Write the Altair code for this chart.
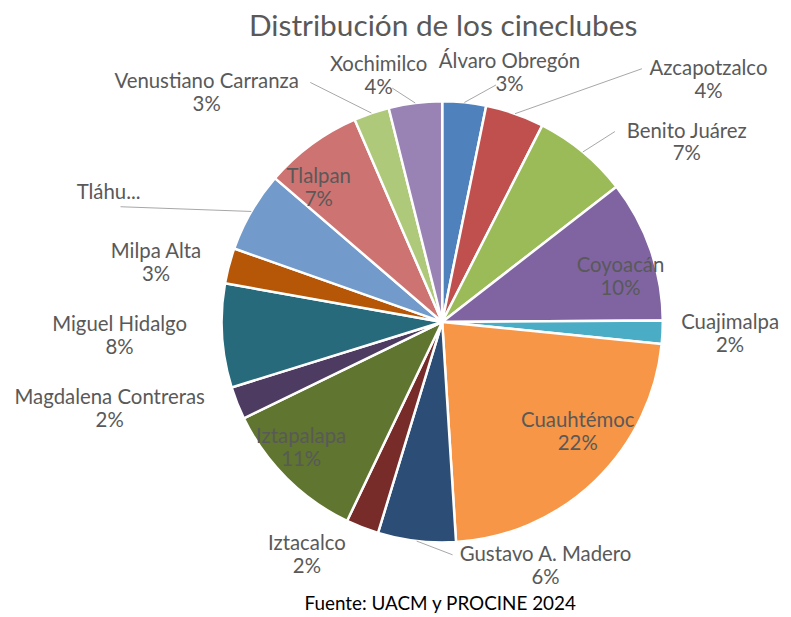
import math
import altair as alt
import pandas as pd

# ---- data ----
categories = ["Álvaro Obregón", "Azcapotzalco", "Benito Juárez", "Coyoacán", "Cuajimalpa",
              "Cuauhtémoc", "Gustavo A. Madero", "Iztacalco", "Iztapalapa", "Magdalena Contreras",
              "Miguel Hidalgo", "Milpa Alta", "Tláhuac", "Tlalpan", "Venustiano Carranza", "Xochimilco"]
shares = [3.2, 4.3, 7.0, 10.4, 1.7, 22.4, 5.7, 2.4, 10.7, 2.4, 7.6, 2.6, 5.9, 7.2, 2.6, 3.9]
label_names = ["Álvaro Obregón", "Azcapotzalco", "Benito Juárez", "Coyoacán", "Cuajimalpa",
               "Cuauhtémoc", "Gustavo A. Madero", "Iztacalco", "Iztapalapa", "Magdalena Contreras",
               "Miguel Hidalgo", "Milpa Alta", "Tláhu...", "Tlalpan", "Venustiano Carranza", "Xochimilco"]
truncated = ["Tláhuac"]
colors = ["#4F81BD", "#C0504D", "#9BBB59", "#8064A2", "#4BACC6", "#F79646", "#2C4D75", "#772C2A",
          "#5F7530", "#4D3B62", "#276A7C", "#B65708", "#729ACA", "#CD7371", "#AFC97A", "#9983B5"]
title_text = "Distribución de los cineclubes"
source_text = "Fuente: UACM y PROCINE 2024"

# ---- label layout (shift in degrees from slice middle, distance from centre in px) ----
label_shift = {"Álvaro Obregón": 9.4, "Azcapotzalco": 28.5, "Benito Juárez": 14.2, "Coyoacán": 5.0,
               "Cuajimalpa": -0.2, "Cuauhtémoc": -6.9, "Gustavo A. Madero": -29.6, "Iztacalco": 8.8,
               "Iztapalapa": 3.2, "Magdalena Contreras": 6.9, "Miguel Hidalgo": 1.0, "Milpa Alta": -3.2,
               "Tláhuac": -8.9, "Tlalpan": -6.4, "Venustiano Carranza": -27.2, "Xochimilco": -7.5}
label_dist = {"Álvaro Obregón": 259, "Azcapotzalco": 362, "Benito Juárez": 305, "Coyoacán": 185,
              "Cuajimalpa": 290, "Cuauhtémoc": 176, "Gustavo A. Madero": 267, "Iztacalco": 272,
              "Iztapalapa": 191, "Magdalena Contreras": 346, "Miguel Hidalgo": 325, "Milpa Alta": 294,
              "Tláhuac": 360, "Tlalpan": 183, "Venustiano Carranza": 330, "Xochimilco": 255}
# leader lines: which text line they attach to
leaders = {"Álvaro Obregón": 1, "Azcapotzalco": 0, "Benito Juárez": 0, "Tláhuac": 0,
           "Venustiano Carranza": 0, "Xochimilco": 1, "Gustavo A. Madero": 0}

W, H = 780, 612
CX, CY = 437, 314
R = 222
FS = 20.5
LH = 23
CHARW = 0.52 * FS

total = sum(shares)
rows, lab_rows, lead_rows = [], [], []
cum = 0.0
for i, (c, s) in enumerate(zip(categories, shares)):
    rows.append({"idx": i, "category": c, "share": s})
    mid = (cum + s / 2) / total * 2 * math.pi
    cum += s
    pct = f"{round(s / total * 100)}%"
    lines = [label_names[i]] if c in truncated else [label_names[i], pct]
    n = len(lines)
    ang = mid + math.radians(label_shift[c])
    d = label_dist[c]
    lx = CX + d * math.sin(ang)
    ly = CY - d * math.cos(ang)
    lab_rows.append({"lx": lx, "ly": ly - (n - 1) * LH / 2, "label": "\n".join(lines)})
    if c in leaders:
        li = leaders[c]
        sx = CX + R * math.sin(mid)
        sy = CY - R * math.cos(mid)
        hw = len(lines[li]) * CHARW / 2
        if n == 1:
            ex, ey = lx + 12, ly + 14
        else:
            ey = ly + (li - (n - 1) / 2) * LH
            ex = lx - hw - 3 if lx > sx else lx + hw + 3
        lead_rows.append({"x": sx, "y": sy, "x2": ex, "y2": ey})

df = pd.DataFrame(rows)
df_lab = pd.DataFrame(lab_rows)
df_lead = pd.DataFrame(lead_rows)
df_text = pd.DataFrame({"t": [title_text], "s": [source_text]})

arcs = alt.Chart(df).mark_arc(radius=R, stroke="white", strokeWidth=2.5).encode(
    theta=alt.Theta("share:Q", stack=True),
    color=alt.Color("category:N", scale=alt.Scale(domain=categories, range=colors), legend=None),
    order=alt.Order("idx:Q"),
    x=alt.value(CX),
    y=alt.value(CY),
)

rules = alt.Chart(df_lead).mark_rule(color="#A6A6A6", strokeWidth=1).encode(
    x=alt.X("x:Q", scale=None, axis=None),
    y=alt.Y("y:Q", scale=None, axis=None),
    x2="x2:Q",
    y2="y2:Q",
)

labels = alt.Chart(df_lab).mark_text(
    font="Lato", fontSize=FS, color="#595959", lineBreak="\n", lineHeight=LH,
    align="center", baseline="middle"
).encode(
    x=alt.X("lx:Q", scale=None, axis=None),
    y=alt.Y("ly:Q", scale=None, axis=None),
    text="label:N",
)

title = alt.Chart(df_text).mark_text(
    font="Lato", fontSize=30, color="#595959", align="center", baseline="middle"
).encode(x=alt.value(438), y=alt.value(17), text="t:N")

source = alt.Chart(df_text).mark_text(
    font="Lato", fontSize=19, color="#000000", align="center", baseline="middle"
).encode(x=alt.value(435), y=alt.value(598), text="s:N")

chart = alt.layer(arcs, rules, labels, title, source).properties(
    width=W, height=H, autosize=alt.AutoSizeParams(type="none"), padding=0
).configure_view(stroke=None)

chart.save("out.html", embed_options={"renderer": "svg", "actions": False})
